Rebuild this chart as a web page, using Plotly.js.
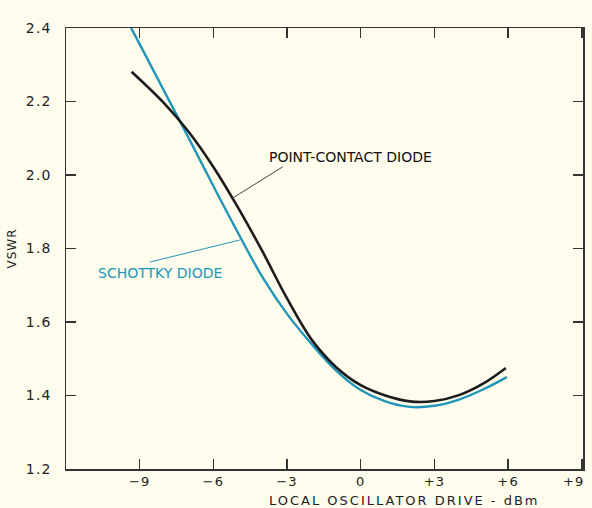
<!DOCTYPE html>
<html>
<head>
<meta charset="utf-8">
<script src="https://cdn.plot.ly/plotly-3.0.1.min.js"></script>
<style>
html,body{margin:0;padding:0;background:#fefcec;}
#chart{width:592px;height:508px;}
#chart .xtick text, #chart .ytick text{letter-spacing:1.2px;}
#chart g.annotation[data-index="2"] text{letter-spacing:2px;}
#chart .ytitle{letter-spacing:1px;}
</style>
</head>
<body>
<div id="chart"></div>
<script>
// Point-contact diode (black)
const pcDrive = [-9.33, -8, -7, -6, -5, -4, -3, -2, -1, 0, 1, 2, 3, 4, 5, 5.91];
const pcVSWR  = [2.281, 2.195, 2.117, 2.022, 1.912, 1.792, 1.664, 1.552, 1.477, 1.428, 1.400, 1.384, 1.385, 1.401, 1.433, 1.475];
// Schottky diode (teal)
const skDrive = [-9.35, -9, -8, -7, -6, -5, -4, -3, -2, -1, 0, 1, 2, 3, 4, 5, 5.95];
const skVSWR  = [2.400, 2.356, 2.228, 2.100, 1.970, 1.843, 1.722, 1.622, 1.540, 1.468, 1.415, 1.384, 1.369, 1.372, 1.389, 1.417, 1.450];
// Axis ticks
const xTickVals = [-9, -6, -3, 0, 3, 6, 9];
const xTickText = ['\u22129', '\u22126', '\u22123', '0', '+3', '+6', '+9'];
const yTickVals = [1.2, 1.4, 1.6, 1.8, 2.0, 2.2, 2.4];
const yTickText = ['1.2', '1.4', '1.6', '1.8', '2.0', '2.2', '2.4'];

const teal = '#2196b8';
const ink = '#1c1c1c';
const font = 'DejaVu Sans, Liberation Sans, sans-serif';

const traces = [
  {x: skDrive, y: skVSWR, mode: 'lines', line: {color: teal, width: 2.4, shape: 'spline', smoothing: 1}, hoverinfo: 'skip'},
  {x: pcDrive, y: pcVSWR, mode: 'lines', line: {color: ink, width: 2.6, shape: 'spline', smoothing: 1}, hoverinfo: 'skip'}
];

const layout = {
  width: 592, height: 508,
  margin: {l: 66, r: 9, t: 28, b: 39},
  paper_bgcolor: '#fefcec', plot_bgcolor: '#fefcec',
  showlegend: false,
  font: {family: font, color: '#222', size: 13},
  xaxis: {
    range: [-12, 9.05], tickvals: xTickVals, ticktext: xTickText,
    ticks: 'inside', ticklen: 10, tickwidth: 1.5, tickcolor: '#333',
    showline: true, linecolor: '#333', linewidth: 1.5, mirror: 'ticks',
    showgrid: false, zeroline: false, fixedrange: true,
    ticklabeloverflow: 'allow',
    tickfont: {family: font, size: 13, color: '#222'}
  },
  yaxis: {
    range: [1.2, 2.4], tickvals: yTickVals, ticktext: yTickText,
    ticks: 'inside', ticklen: 10, tickwidth: 1.5, tickcolor: '#333',
    showline: true, linecolor: '#333', linewidth: 1.5, mirror: 'ticks',
    showgrid: false, zeroline: false, fixedrange: true,
    ticklabelstandoff: 10,
    tickfont: {family: font, size: 14, color: '#222'},
    title: {text: 'VSWR', font: {family: font, size: 12, color: '#222'}, standoff: 10}
  },
  shapes: [
    {type: 'line', xref: 'x', yref: 'y', x0: -5.22, y0: 1.937, x1: -3.18, y1: 2.022, line: {color: '#444', width: 1}},
    {type: 'line', xref: 'x', yref: 'y', x0: -4.93, y0: 1.823, x1: -8.59, y1: 1.763, line: {color: teal, width: 1}}
  ],
  annotations: [
    {text: 'POINT-CONTACT DIODE', xref: 'x', yref: 'y', x: -3.8, y: 2.049, xanchor: 'left', yanchor: 'middle', showarrow: false, font: {family: font, size: 14, color: '#111'}},
    {text: 'SCHOTTKY DIODE', xref: 'x', yref: 'y', x: -10.78, y: 1.733, xanchor: 'left', yanchor: 'middle', showarrow: false, font: {family: font, size: 14, color: teal}},
    {text: 'LOCAL OSCILLATOR DRIVE - dBm', xref: 'paper', yref: 'paper', x: 0.655, y: -0.071, xanchor: 'center', yanchor: 'middle', showarrow: false, font: {family: font, size: 13, color: '#222'}}
  ]
};

Plotly.newPlot('chart', traces, layout, {displayModeBar: false, staticPlot: true}).then(function (gd) {
  // nudge the last x tick label (+9) left so it sits inside the page, as in the original
  const labels = gd.querySelectorAll('.xtick text');
  const last = labels[labels.length - 1];
  if (last) last.setAttribute('dx', '-8');
});
</script>
</body>
</html>
